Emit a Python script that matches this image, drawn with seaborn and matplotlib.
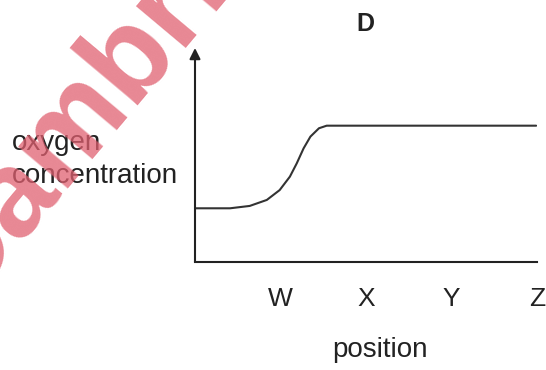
import numpy as np
import pandas as pd
import matplotlib.pyplot as plt
import seaborn as sns

# Values (position units: W=1 .. Z=4, concentration 0..1 up the axis)
position = [0.0, 0.41, 0.64, 0.84, 0.99, 1.11, 1.19, 1.27, 1.35, 1.45, 1.54, 3.99]
oxygen = [0.251, 0.251, 0.262, 0.290, 0.336, 0.399, 0.461, 0.531, 0.586, 0.625, 0.637, 0.637]
tick_pos = [1, 2, 3, 4]
tick_labels = ["W", "X", "Y", "Z"]

sns.set_style("white")
plt.rcParams["font.family"] = ["Liberation Sans", "DejaVu Sans"]

df = pd.DataFrame({"position": position, "oxygen": oxygen})

fig = plt.figure(figsize=(5.46, 3.70), dpi=100)
ax = fig.add_axes([195 / 546, 1 - 262 / 370, (537 - 195) / 546, (262 - 48) / 370])

sns.lineplot(data=df, x="position", y="oxygen", ax=ax, color="#333333", linewidth=1.5)

ax.set_xlim(0, 4)
ax.set_ylim(0, 1)
ax.set_xticks(tick_pos)
ax.set_xticklabels(tick_labels, fontsize=19, color="#222222")
ax.set_yticks([])
ax.tick_params(axis="x", direction="out", length=11, width=1.5, pad=7, color="#222222")
ax.set_xlabel("")
ax.set_ylabel("")
for s in ["top", "right", "left"]:
    ax.spines[s].set_visible(False)
ax.spines["bottom"].set_linewidth(1.5)
ax.spines["bottom"].set_color("#222222")

# y axis drawn as an arrow
ax.annotate("", xy=(0, 1), xycoords="axes fraction", xytext=(0, 0),
            textcoords="axes fraction",
            arrowprops=dict(arrowstyle="-|>", color="#222222", lw=1.5,
                            mutation_scale=16, shrinkA=0, shrinkB=0))

fig.text(12 / 546, 1 - 143 / 370, "oxygen", fontsize=20, color="#222222", va="center", ha="left")
fig.text(12 / 546, 1 - 176 / 370, "concentration", fontsize=20, color="#222222", va="center", ha="left")
fig.text(380 / 546, 1 - 350 / 370, "position", fontsize=20, color="#222222", va="center", ha="center")
fig.text(365 / 546, 1 - 24 / 370, "D", fontsize=18, fontweight="bold", color="#222222", va="center", ha="center")

# watermark
fig.text(-39 / 546, 1 - 310 / 370, "Cambridge", fontsize=88, fontweight="bold",
         color="#e06070", alpha=0.75, rotation=50, rotation_mode="anchor",
         ha="left", va="baseline")

fig.savefig("out.png", dpi=100)
